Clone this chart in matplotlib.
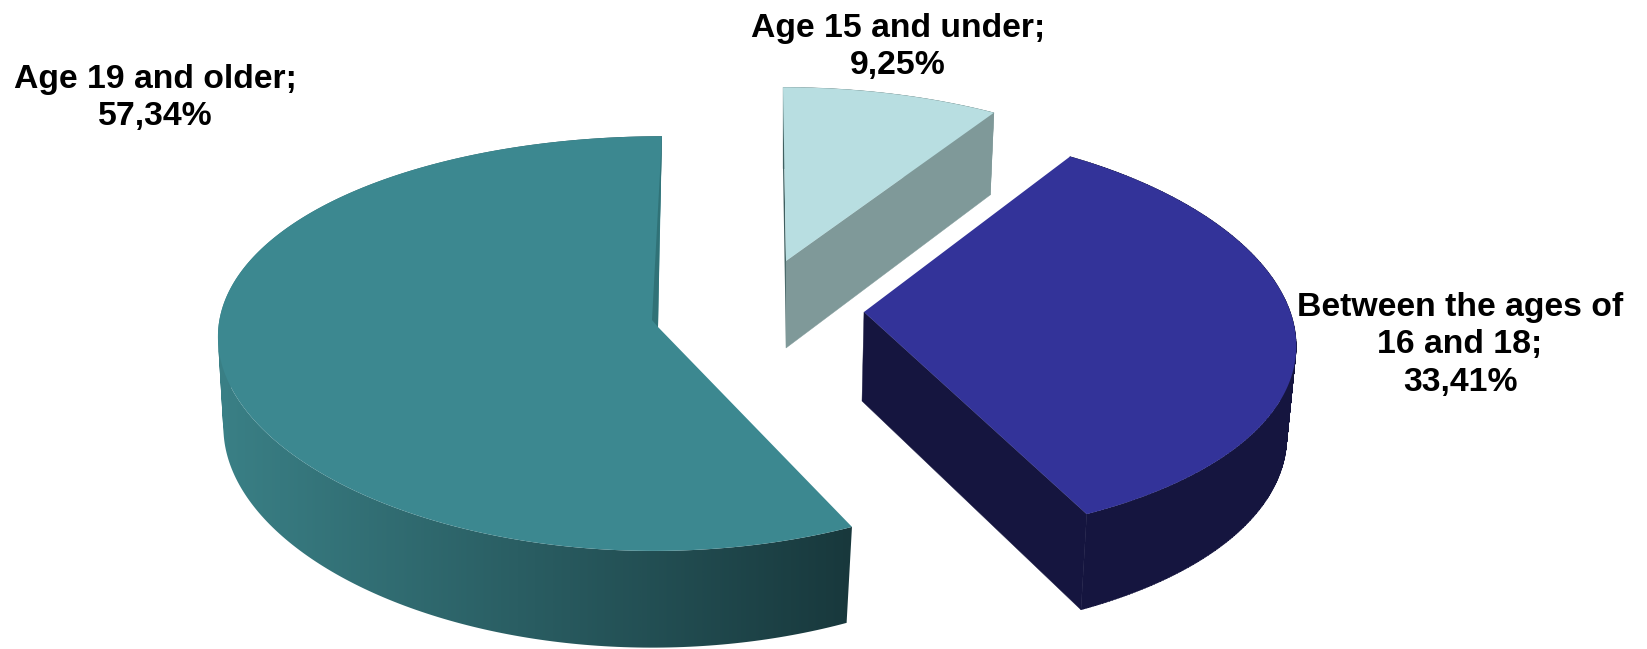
import numpy as np
import matplotlib
matplotlib.use("Agg")
import matplotlib.pyplot as plt
from matplotlib.patches import Polygon, PathPatch
from matplotlib.path import Path

# ---- data ----
categories = ["Age 15 and under", "Between the ages of\n16 and 18", "Age 19 and older"]
shares = [9.25, 33.41, 57.34]

# ---- style / layout ----
W, H = 1647, 649
FONT = "Liberation Sans"
FS = 24.3
slices = [
    dict(apex=(786, 261), a=430, b=199, kx=.146, ky=.146, s=-3.4, sag=0, drop=(0, 87), fb=1.033, top="#B8DEE1",
         wall0="#7F9999", wall1="#7F9999", cut="#7F9999", label=(898, 47)),
    dict(apex=(864, 312), a=427, b=203.5, kx=.146, ky=.108, s=-4, sag=2, drop=(-2, 89), fb=1.033, top="#333399",
         wall0="#15153F", wall1="#15153F", cut="#15153F", label=(1460, 345)),
    dict(apex=(658, 327), a=440, b=206, kx=.01, ky=.08, s=4, sag=6, drop=(-2, 90), fb=1.03, top="#3C8890",
         wall0="#3A8086", wall1="#18383C", cut="#307277", label=(155, 98)),
]


def project(sl, theta, bottom=False):
    """Pie angle (clockwise from the back) to canvas pixels, with perspective."""
    t = np.radians(theta)
    f = (0.983, sl["fb"]) if bottom else (1.0, 1.0)
    dx, dy = sl["drop"] if bottom else (0, 0)
    x = sl["apex"][0] + dx + (f[0] * sl["a"] * np.sin(t) + sl["s"] * np.cos(t)) / (1 + sl["kx"] * np.cos(t))
    y = sl["apex"][1] + dy - f[1] * sl["b"] * np.cos(t) / (1 + sl["ky"] * np.cos(t)) + sl["sag"] * np.sin(t) ** 2
    return np.column_stack([x, y])


def wall_path(top, bot):
    """Union of the wall's quads, all wound the same way so that none cancels."""
    verts, codes = [], []
    for i in range(len(top) - 1):
        q = np.array([top[i], top[i + 1], bot[i + 1], bot[i]])
        area = np.sum(q[:, 0] * np.roll(q[:, 1], -1) - np.roll(q[:, 0], -1) * q[:, 1])
        if area < 0:
            q = q[::-1]
        verts += list(q) + [q[0]]
        codes += [Path.MOVETO, Path.LINETO, Path.LINETO, Path.LINETO, Path.CLOSEPOLY]
    return Path(np.array(verts), codes)


fig = plt.figure(figsize=(W / 100, H / 100), dpi=100, facecolor="white")
ax = fig.add_axes([0, 0, 1, 1])
ax.axis("off")

edges = np.cumsum([0] + shares) * 3.6

for z, (sl, start, stop) in enumerate(zip(slices, edges[:-1], edges[1:])):
    th = np.linspace(start, stop, 241)
    top = project(sl, th)
    bot = project(sl, th, bottom=True)
    apex = np.array([sl["apex"]], float)
    apex_b = apex + np.array(sl["drop"])
    base = z * 10

    # outer wall: flat fill, or a left-to-right gradient clipped to the wall outline
    path = wall_path(top, bot)
    if sl["wall0"] == sl["wall1"]:
        ax.add_patch(PathPatch(path, fc=sl["wall0"], ec=sl["wall0"], lw=0.3, zorder=base + 1))
    else:
        clip = PathPatch(path, fc="none", ec="none", transform=ax.transData)
        ax.add_patch(clip)
        cmap = matplotlib.colors.LinearSegmentedColormap.from_list("w", [sl["wall0"], sl["wall1"]])
        xs, ys = path.vertices[:, 0], path.vertices[:, 1]
        im = ax.imshow(np.linspace(0, 1, 512)[None, :], cmap=cmap, aspect="auto",
                       extent=(xs.min(), xs.max(), ys.max(), ys.min()),
                       zorder=base + 1, interpolation="bilinear")
        im.set_clip_path(clip)

    if z == 0:
        # thin dark left cut, then the visible right cut
        ax.add_patch(Polygon(np.vstack([apex, top[0], bot[0], apex_b]), closed=True,
                             fc="#3F5F60", ec="none", zorder=base + 2))
        ax.add_patch(Polygon(np.vstack([apex, top[-1], bot[-1], apex_b]), closed=True,
                             fc=sl["cut"], ec=sl["cut"], lw=0.3, zorder=base + 3))
    elif z == 1:
        ax.add_patch(Polygon(np.vstack([apex, top[-1], bot[-1], apex_b]), closed=True,
                             fc=sl["cut"], ec=sl["cut"], lw=0.3, zorder=base + 3))

    ax.add_patch(Polygon(np.vstack([apex, top]), closed=True, fc=sl["top"], ec="none", zorder=base + 4))

    if z == 2:
        # sliver of the inner cut seen along the back edge
        ax.add_patch(Polygon(np.vstack([top[-1], bot[-1], apex, apex + np.array([-6, -7])]), closed=True,
                             fc=sl["cut"], ec="none", zorder=base + 5))

    text = f"{categories[z]};\n{shares[z]:.2f}%".replace(".", ",")
    ax.text(*sl["label"], text, ha="center", va="center", family=FONT, weight="bold",
            fontsize=FS, color="black", linespacing=1.27, zorder=100)

ax.set_xlim(0, W)
ax.set_ylim(H, 0)
fig.savefig("out.png", dpi=100, facecolor="white")
